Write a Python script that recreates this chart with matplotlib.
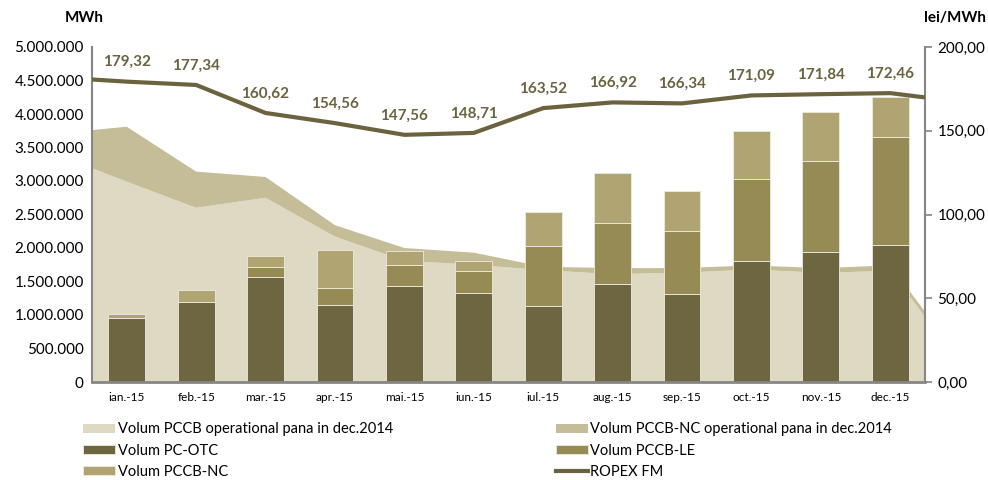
import numpy as np
import matplotlib.pyplot as plt
from matplotlib.ticker import FuncFormatter

plt.rcParams['font.family'] = ['Lato', 'DejaVu Sans']

luni = ["ian.-15", "feb.-15", "mar.-15", "apr.-15", "mai.-15", "iun.-15",
        "iul.-15", "aug.-15", "sep.-15", "oct.-15", "nov.-15", "dec.-15"]

# volume in MWh (bare stivuite)
pc_otc = [960000, 1190000, 1570000, 1150000, 1440000, 1330000,
          1140000, 1460000, 1320000, 1800000, 1940000, 2040000]
pccb_le = [0, 0, 150000, 260000, 310000, 320000,
           890000, 920000, 930000, 1230000, 1360000, 1610000]
pccb_nc = [50000, 180000, 155000, 565000, 210000, 160000,
           510000, 740000, 600000, 720000, 730000, 610000]

# ariile de fundal, cu punctele de la margini (inceput / sfarsit)
arie_x = [-0.5, 0, 1, 2, 3, 4, 5, 6, 7, 8, 9, 10, 11, 11.5]
pccb_oper = [3190000, 2990000, 2600000, 2750000, 2170000, 1810000, 1750000,
             1670000, 1610000, 1630000, 1680000, 1630000, 1660000, 975000]
pccb_nc_oper = [570000, 820000, 540000, 310000, 170000, 190000, 180000,
                50000, 90000, 70000, 60000, 70000, 80000, 75000]

# pret ROPEX FM, lei/MWh
ropex = [179.32, 177.34, 160.62, 154.56, 147.56, 148.71,
         163.52, 166.92, 166.34, 171.09, 171.84, 172.46]
ropex_x = [-0.5] + list(range(12)) + [11.5]
ropex_linie = [180.6] + ropex + [169.9]

c_oper = "#DDD9C3"
c_nc_oper = "#C4BD97"
c_otc = "#6E6640"
c_le = "#968B54"
c_nc = "#B0A572"
c_line = "#6B6340"
gri = "#868686"

fig = plt.figure(figsize=(9.88, 4.8), dpi=100)
ax = fig.add_axes([92/988, 1-382/480, (925-92)/988, (382-47)/480])

ax.stackplot(arie_x, pccb_oper, pccb_nc_oper, colors=[c_oper, c_nc_oper],
             labels=["Volum PCCB operational pana in dec.2014",
                     "Volum PCCB-NC operational pana in dec.2014"], zorder=1)

x = np.arange(12)
w = 0.53
ec = "#EDEBDF"
b1 = ax.bar(x, pc_otc, w, color=c_otc, edgecolor=ec, linewidth=0.6,
            label="Volum PC-OTC", zorder=2)
b2 = ax.bar(x, pccb_le, w, bottom=pc_otc, color=c_le, edgecolor=ec,
            linewidth=0.6, label="Volum PCCB-LE", zorder=2)
jos = np.array(pc_otc) + np.array(pccb_le)
b3 = ax.bar(x, pccb_nc, w, bottom=jos, color=c_nc, edgecolor=ec,
            linewidth=0.6, label="Volum PCCB-NC", zorder=2)

ax.set_xlim(-0.5, 11.5)
ax.set_ylim(0, 5000000)
ax.set_yticks(np.arange(0, 5000001, 500000))
ax.yaxis.set_major_formatter(FuncFormatter(lambda v, p: f"{int(v):,}".replace(",", ".")))
ax.set_xticks(x)
ax.set_xticklabels(luni, fontsize=8.5)
ax.tick_params(axis="x", length=0, pad=7)
ax.tick_params(axis="y", length=0, labelsize=11, pad=6)

for s in ["top", "right"]:
    ax.spines[s].set_visible(False)
ax.spines["left"].set_color(gri)
ax.spines["left"].set_linewidth(1.5)
ax.spines["bottom"].set_color(gri)
ax.spines["bottom"].set_linewidth(2)
ax.spines["bottom"].set_zorder(5)

ax2 = ax.twinx()
ax2.plot(ropex_x, ropex_linie, color=c_line, linewidth=3, label="ROPEX FM", zorder=3)
for i, v in enumerate(ropex):
    ax2.annotate(f"{v:.2f}".replace(".", ","), (i, v), xytext=(0, 9),
                 textcoords="offset points", ha="center", va="bottom",
                 fontsize=11, fontweight="bold", color=c_line)
ax2.set_ylim(0, 200)
ax2.set_yticks(np.arange(0, 201, 50))
ax2.yaxis.set_major_formatter(FuncFormatter(lambda v, p: f"{v:.2f}".replace(".", ",")))
ax2.tick_params(axis="y", length=5, color=gri, width=1.2, labelsize=11, pad=4)
for s in ["top", "left", "bottom"]:
    ax2.spines[s].set_visible(False)
ax2.spines["right"].set_color(gri)
ax2.spines["right"].set_linewidth(1.5)

fig.text(84/988, 1-18/480, "MWh", ha="center", va="center",
         fontsize=11, fontweight="bold")
fig.text(955/988, 1-18/480, "lei/MWh", ha="center", va="center",
         fontsize=11, fontweight="bold")

h_area, l_area = ax.get_legend_handles_labels()
h2, l2 = ax2.get_legend_handles_labels()
handles = [h_area[0], b1, b3, h_area[1], b2, h2[0]]
labels = [l_area[0], "Volum PC-OTC", "Volum PCCB-NC", l_area[1], "Volum PCCB-LE", "ROPEX FM"]
fig.legend(handles, labels, ncol=2, loc="upper left",
           bbox_to_anchor=(76/988, 1-415/480), frameon=False, fontsize=10.5,
           handlelength=2.2, handleheight=0.6, handletextpad=0.15,
           columnspacing=11.2, labelspacing=0.5, borderpad=0)

fig.savefig("out.png", dpi=100)
